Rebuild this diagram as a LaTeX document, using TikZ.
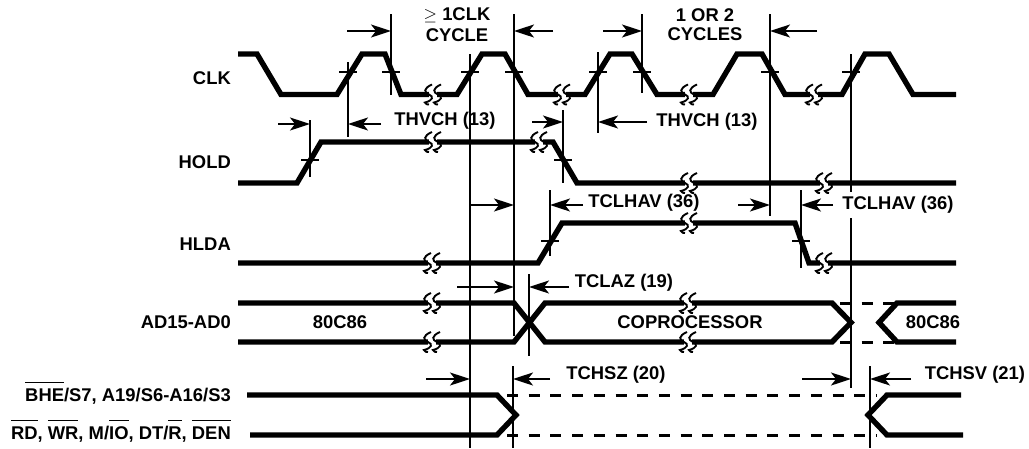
\documentclass[tikz,border=0pt]{standalone}
\usepackage{fontspec}
\setmainfont{Liberation Sans}
\usetikzlibrary{arrows.meta}
\newcommand{\ovl}[1]{$\overline{\rule{0pt}{17.5pt}\mbox{#1}}$}
% break mark on a trace
\newcommand{\tracebreak}[2]{
  \fill[white] (#1-4,#2-4) rectangle (#1+4,#2+4);
  \draw[squig] (#1-1,#2-10) .. controls (#1-10,#2-6) and (#1-9,#2-2) .. (#1-4,#2)
     .. controls (#1+1,#2+2) and (#1-0,#2+6) .. (#1-8,#2+8) .. controls (#1-8,#2+10) and (#1-5,#2+10) .. (#1-4,#2+10);
  \draw[squig] (#1+8,#2-10) .. controls (#1-1,#2-6) and (#1+0,#2-2) .. (#1+5,#2)
     .. controls (#1+10,#2+2) and (#1+9,#2+6) .. (#1+1,#2+8) .. controls (#1+1,#2+10) and (#1+4,#2+10) .. (#1+5,#2+10);
}
\begin{document}
\begin{tikzpicture}[x=1pt, y=-1pt,
  trace/.style={line width=5.4pt, miter limit=10},
  float/.style={line width=3pt, dash pattern=on 11pt off 10.7pt},
  squig/.style={line width=1.9pt},
  edge/.style={line width=1.9pt},
  dim/.style={line width=1.9pt, -{Stealth[length=20pt, width=13pt, inset=5pt]}},
  tag/.style={font=\fontsize{18.4}{21}\selectfont\bfseries, inner sep=0pt},
  sig/.style={tag, anchor=base east},
]
\useasboundingbox (0,0) rectangle (1029,448);

% Signal names
\node[sig] (clk) at (231,84.5) {CLK};
\node[sig] (hold) at (231,168.5) {HOLD};
\node[sig] (hlda) at (231,250.5) {HLDA};
\node[sig] (ad) at (231,328.5) {AD15-AD0};
\node[sig] (bhe) at (231,401) {\ovl{BHE}/S7, A19/S6-A16/S3};
\node[sig] (rd) at (231,439) {\ovl{RD}, \ovl{WR}, M/\ovl{IO}, DT/\ovl{R}, \ovl{DEN}};

% CLK
\draw[trace] (238,54) -- (257,54) -- (281,94.5) -- (337,94.5) -- (362,54) -- (385,54) -- (401,94.5)
  -- (457,94.5) -- (482,54) -- (505,54) -- (528,94.5) -- (585,94.5) -- (610,54) -- (632,54)
  -- (657,94.5) -- (713,94.5) -- (737,54) -- (762,54) -- (785,94.5) -- (842,94.5) -- (865,54)
  -- (889,54) -- (913,94.5) -- (956,94.5);
\foreach \x in {433,562,689,814} {\tracebreak{\x}{94.5}}

% HOLD
\draw[trace] (238,183) -- (297,183) -- (321,142) -- (553,142) -- (577,183) -- (956,183);
\foreach \x in {433,539} {\tracebreak{\x}{142}}
\foreach \x in {689,824} {\tracebreak{\x}{183}}

% HLDA
\draw[trace] (238,263) -- (538,263) -- (562,223) -- (795,223) -- (809,263) -- (956,263);
\tracebreak{432}{263}
\tracebreak{689}{223}
\tracebreak{824}{263}

% AD15-AD0
\draw[trace] (238,303) -- (514,303) -- (545,342) -- (832,342) -- (851,322.5) -- (832,303)
  -- (545,303) -- (514,342) -- (238,342);
\draw[float] (840,303) -- (897,303);
\draw[float] (840,342) -- (897,342);
\draw[trace] (956,303) -- (897,303) -- (879,322.5) -- (897,342) -- (956,342);
\foreach \y in {303,342} {
  \tracebreak{432}{\y}
  \tracebreak{688}{\y}
}
\node[tag] (busa) at (340,322) {80C86};
\node[tag] (cop) at (690,322) {COPROCESSOR};
\node[tag] (busb) at (933,322) {80C86};

% BHE/RD group
\draw[trace] (247,395) -- (497,395) -- (516,415) -- (497,435) -- (250,435);
\draw[float] (507,395) -- (877,395);
\draw[float] (507,435) -- (877,435);
\draw[trace] (961,395) -- (887,395) -- (868,415) -- (887,435) -- (963,435);

% Reference edges
\draw[edge] (348,62) -- (348,137);
\draw[edge] (391,14) -- (391,95);
\draw[edge] (470,54) -- (470,448);
\draw[edge] (514,14) -- (514,336);
\draw[edge] (598,52) -- (598,133);
\draw[edge] (642,14) -- (642,93);
\draw[edge] (770,14) -- (770,216);
\draw[edge] (851,54) -- (851,192);
\draw[edge] (851,218) -- (851,388);
\draw[edge] (310,120) -- (310,177);
\draw[edge] (563,110) -- (563,183);
\draw[edge] (550,190) -- (550,256);
\draw[edge] (801,190) -- (801,268);
\draw[edge] (529,274) -- (529,356);
\draw[edge] (513,366) -- (513,448);
\draw[edge] (870,366) -- (870,448);

% Crossing ticks
\foreach \x in {348,391,470,514,598,642,770,851} {\draw[edge] (\x-9,72) -- (\x+9,72);}
\foreach \x in {310,563} {\draw[edge] (\x-9,160) -- (\x+9,160);}
\foreach \x in {550,801} {\draw[edge] (\x-9,241) -- (\x+9,241);}

% Timing arrows
\draw[dim] (347,31) -- (391,31);
\draw[dim] (553,31) -- (514,31);
\draw[dim] (603,31) -- (642,31);
\draw[dim] (817,31) -- (770,31);
\draw[dim] (278,124) -- (310,124);
\draw[dim] (381,124) -- (348,124);
\draw[dim] (532,122) -- (563,122);
\draw[dim] (647,122) -- (598,122);
\draw[dim] (470,205) -- (514,205);
\draw[dim] (583,205) -- (550,205);
\draw[dim] (738,205) -- (770,205);
\draw[dim] (833,205) -- (801,205);
\draw[dim] (457,287) -- (514,287);
\draw[dim] (569,287) -- (529,287);
\draw[dim] (426,379) -- (470,379);
\draw[dim] (550,379) -- (513,379);
\draw[dim] (802,379) -- (851,379);
\draw[dim] (911,379) -- (870,379);

% Timing labels
\node[tag] (geclk) at (457,15) {$\geq$ 1CLK};
\node[tag] (cycle) at (457,35) {CYCLE};
\node[tag] (onetwo) at (705,15) {1 OR 2};
\node[tag] (cycles) at (705,34) {CYCLES};
\node[tag] (thvcha) at (445,121) {THVCH (13)};
\node[tag] (thvchb) at (707,122) {THVCH (13)};
\node[tag] (tclhava) at (644,203) {TCLHAV (36)};
\node[tag] (tclhavb) at (898,205) {TCLHAV (36)};
\node[tag] (tclaz) at (624,283) {TCLAZ (19)};
\node[tag] (tchsz) at (616,375) {TCHSZ (20)};
\node[tag] (tchsv) at (975,375) {TCHSV (21)};
\end{tikzpicture}
\end{document}
